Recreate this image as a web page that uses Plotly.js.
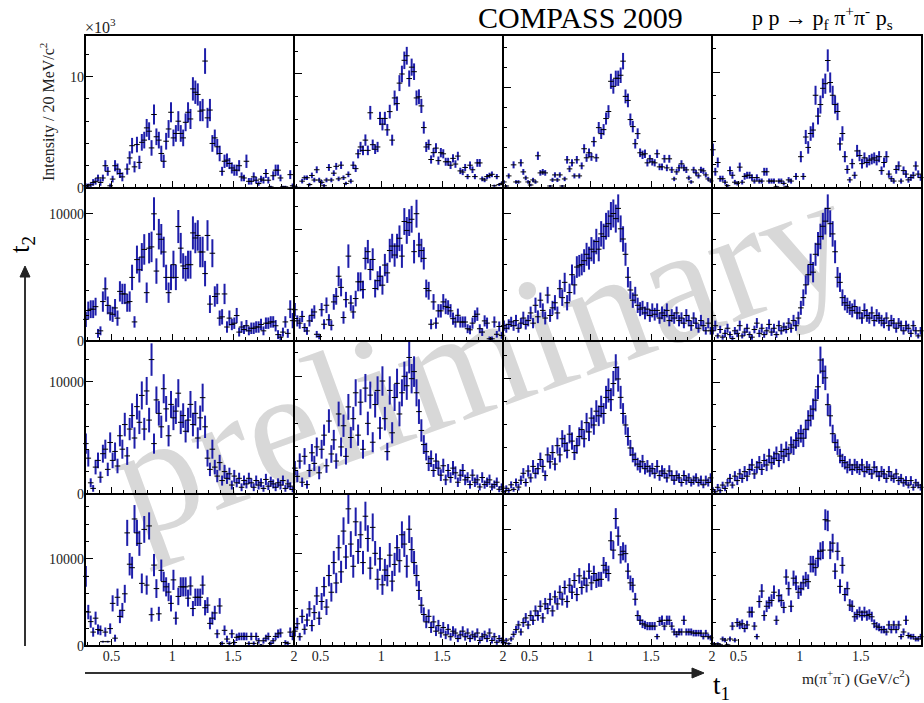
<!DOCTYPE html>
<html><head><meta charset="utf-8">
<script src="https://cdn.plot.ly/plotly-3.0.1.min.js"></script>
<style>html,body{margin:0;padding:0;background:#fff}#chart{width:924px;height:703px}</style>
</head><body><div id="chart"></div>
<script>
// bin centres of m(pi+pi-) in GeV/c^2 (20 MeV bins)
const binCenters = [0.29,0.31,0.33,0.35,0.37,0.39,0.41,0.43,0.45,0.47,
0.49,0.51,0.53,0.55,0.57,0.59,0.61,0.63,0.65,0.67,
0.69,0.71,0.73,0.75,0.77,0.79,0.81,0.83,0.85,0.87,
0.89,0.91,0.93,0.95,0.97,0.99,1.01,1.03,1.05,1.07,
1.09,1.11,1.13,1.15,1.17,1.19,1.21,1.23,1.25,1.27,
1.29,1.31,1.33,1.35,1.37,1.39,1.41,1.43,1.45,1.47,
1.49,1.51,1.53,1.55,1.57,1.59,1.61,1.63,1.65,1.67,
1.69,1.71,1.73,1.75,1.77,1.79,1.81,1.83,1.85,1.87,
1.89,1.91,1.93,1.95,1.97,1.99];

// intensities in units of 1000 per 20 MeV/c^2 ; Prc = row r, column c ; Prce = errors
const P11 = [0.2,0.2,0.3,0.5,0.6,0.9,0.5,0.9,2.0,1.5, 0.2,0.8,2.0,1.7,1.3,1.0,0.0,1.7,2.7,3.8, 1.9,3.9,2.3,4.1,4.3,5.4,5.1,3.6,6.6,4.6, 4.3,3.1,2.4,4.2,5.3,6.8,4.5,4.9,6.0,4.9, 4.5,5.9,6.8,6.2,8.9,8.6,8.4,6.9,7.0,11.4, 6.3,7.0,4.0,4.5,3.7,3.1,1.5,2.4,2.5,2.2, 1.8,1.6,1.6,2.0,1.0,0.9,2.4,0.6,0.6,1.0, 0.7,0.4,0.8,0.7,1.3,0.7,0.1,1.1,1.6,1.6, 0.9,0.1,0.1,0.0,1.2,0.2];
const P11e = [.2,.2,.2,.3,.3,.3,.3,.3,.5,.4, .2,.3,.5,.5,.4,.4,.1,.5,.6,.7, .5,.7,.6,.75,.75,.8,.8,.7,.9,.75, .75,.7,.6,.75,.8,.9,.75,.75,.9,.75, .75,.8,.9,.9,1.05,1.05,1.0,.9,1.0,1.15, .9,1.0,.75,.75,.7,.7,.4,.6,.6,.5, .5,.5,.5,.5,.4,.3,.6,.3,.3,.4, .3,.2,.3,.3,.4,.3,.1,.4,.5,.5, .3,.1,.1,.1,.4,.2];
const P12 = [0.1,0.0,0.0,0.6,0.9,0.9,0.3,1.1,0.7,1.6, 0.7,0.5,0.2,0.7,1.8,0.7,1.3,1.9,0.8,2.0, 0.9,0.4,1.2,0.6,2.0,1.7,3.0,3.6,3.3,4.2, 3.3,6.6,3.8,3.4,3.6,6.1,5.6,6.1,5.1,6.7, 4.2,7.9,7.4,9.2,10.0,11.2,11.6,9.6,10.6,10.2, 7.9,8.0,7.2,5.3,3.6,3.8,2.5,3.1,3.5,2.4, 3.1,3.0,2.3,2.3,2.0,2.6,2.1,2.8,1.5,1.4, 1.8,1.0,2.0,1.6,1.0,2.2,2.2,0.8,0.7,1.0, 1.1,1.2,0.2,1.0,0.3,0.4];
const P12e = [.1,.1,.1,.2,.2,.2,.15,.25,.2,.3, .2,.2,.15,.2,.3,.2,.25,.3,.2,.33, .2,.15,.25,.2,.33,.3,.4,.45,.42,.5, .42,.6,.45,.42,.45,.58,.55,.58,.52,.6, .48,.65,.63,.7,.73,.77,.78,.71,.75,.73, .65,.65,.62,.53,.44,.45,.36,.41,.43,.36, .41,.4,.35,.35,.33,.37,.33,.38,.28,.27, .31,.23,.33,.29,.23,.34,.34,.21,.19,.23, .24,.25,.1,.23,.13,.15];
const P13 = [0.6,0.2,1.2,0.0,2.3,0.6,0.6,2.5,1.6,1.0, 0.6,0.3,0.8,0.6,3.2,1.5,1.6,1.5,0.0,0.2, 0.8,1.3,0.8,1.3,0.2,0.9,2.8,1.9,2.5,1.2, 2.8,1.2,2.2,3.9,3.0,3.5,3.1,4.6,3.0,6.0, 5.4,5.8,6.9,7.6,10.6,10.1,10.9,10.9,11.2,12.6, 9.1,8.7,6.8,6.1,4.4,5.4,3.5,3.3,3.4,2.5, 2.9,2.6,2.5,3.4,2.1,2.1,2.9,2.0,2.9,1.8, 0.9,1.6,2.0,2.4,2.0,1.8,1.0,0.6,1.8,1.5, 1.2,1.8,1.7,1.3,0.9,0.7];
const P13e = [.18,.1,.25,.08,.35,.18,.18,.36,.29,.23, .18,.13,.21,.18,.41,.28,.29,.28,.08,.1, .21,.26,.21,.26,.1,.22,.38,.32,.36,.25, .38,.25,.34,.45,.4,.43,.4,.49,.4,.56, .53,.55,.6,.63,.75,.73,.76,.76,.77,.82, .69,.68,.6,.57,.48,.53,.43,.42,.42,.36, .39,.37,.36,.42,.33,.33,.39,.33,.39,.31, .22,.29,.33,.36,.33,.31,.23,.18,.31,.28, .25,.31,.3,.26,.22,.19];
const P14 = [3.3,1.4,2.2,0.8,0.8,0.5,0.2,1.5,1.1,0.5, 0.4,1.8,0.5,1.0,1.1,1.1,0.9,0.6,0.9,0.6, 0.6,1.4,1.4,0.6,0.6,0.6,0.1,0.6,0.6,0.4, 0.1,0.7,0.6,0.0,1.0,0.0,2.7,1.0,4.4,3.5, 4.7,5.0,8.0,6.2,7.2,8.6,9.0,11.0,9.1,8.0, 7.2,6.6,3.8,4.7,2.7,1.6,0.7,2.1,1.1,3.2, 2.8,2.1,2.6,2.2,2.4,2.5,2.6,2.4,2.7,1.5, 2.2,2.7,1.2,0.8,0.6,1.6,1.9,0.6,1.5,1.2, 0.7,0.9,1.1,1.9,1.2,0.9];
const P14e = [.53,.34,.43,.26,.26,.2,.13,.36,.3,.2, .18,.39,.2,.29,.3,.3,.28,.22,.28,.22, .22,.34,.34,.22,.22,.22,.1,.22,.22,.18, .1,.24,.22,.08,.29,.08,.48,.29,.61,.54, .63,.65,.82,.72,.78,.85,.87,.96,.87,.82, .78,.75,.57,.63,.48,.37,.24,.42,.3,.52, .49,.42,.47,.43,.45,.46,.47,.45,.48,.36, .43,.48,.32,.26,.22,.37,.4,.22,.36,.32, .24,.28,.3,.4,.32,.28];
const P21 = [1.7,2.4,2.5,2.5,2.7,0.6,0.8,3.1,4.1,2.8, 2.2,2.1,2.6,1.8,3.9,3.7,3.7,3.0,3.1,5.0, 1.5,6.4,5.6,6.6,7.2,3.8,7.3,7.4,10.0,5.5, 8.4,8.0,7.0,5.0,3.8,5.0,6.0,5.0,9.0,7.3, 5.9,5.7,6.0,6.0,8.5,8.1,8.3,7.0,7.0,5.3, 8.3,2.9,6.9,3.5,3.7,1.8,1.9,3.7,1.1,1.8, 1.3,1.4,2.0,0.7,1.1,0.9,1.2,0.8,1.0,1.0, 1.1,1.1,1.3,0.8,1.4,1.4,1.5,1.5,1.2,0.5, 0.3,0.7,1.5,0.6,2.5,1.6];
const P21e = [.6,.7,.7,.7,.7,.35,.35,.8,.9,.7, .6,.6,.7,.6,.8,.8,.8,.7,.8,1.0, .45,1.1,1.0,1.1,1.2,.8,1.2,1.2,1.3,1.0, 1.2,1.2,1.2,1.0,.8,1.0,1.1,1.0,1.3,1.2, 1.0,1.0,1.1,1.1,1.3,1.2,1.2,1.2,1.2,1.0, 1.2,.7,1.1,.8,.8,.6,.6,.8,.45,.6, .45,.45,.6,.35,.45,.35,.45,.35,.45,.45, .45,.45,.45,.35,.45,.45,.45,.45,.45,.35, .25,.35,.45,.35,.7,.6];
const P22 = [2.8,1.8,1.6,2.2,1.2,0.9,1.8,2.3,2.6,0.6, 0.4,2.8,1.5,3.2,1.9,1.4,3.5,4.0,5.8,4.8, 2.1,3.7,7.6,3.4,2.6,3.8,5.3,5.3,4.6,7.4, 8.0,6.4,7.3,4.7,5.4,5.8,5.0,6.8,6.1,8.1, 8.5,7.7,8.5,9.2,7.6,10.7,9.9,10.6,10.9,8.0, 11.4,8.6,8.1,7.4,4.7,4.5,1.5,3.5,1.6,2.7, 2.7,3.5,3.1,3.0,2.7,2.0,1.7,2.3,1.7,1.7, 1.7,1.1,1.0,1.6,2.2,2.4,1.1,0.8,1.8,1.6, 0.2,0.2,1.7,0.6,1.3,0.5];
const P22e = [.6,.5,.5,.5,.4,.35,.5,.6,.6,.3, .25,.6,.45,.7,.5,.45,.7,.75,.9,.8, .55,.7,1.05,.7,.6,.7,.85,.85,.8,1.0, 1.05,.95,1.0,.8,.85,.9,.85,1.0,.9,1.05, 1.1,1.05,1.1,1.15,1.05,1.2,1.2,1.2,1.2,1.05, 1.25,1.1,1.05,1.0,.8,.8,.45,.7,.5,.6, .6,.7,.7,.65,.6,.55,.5,.6,.5,.5, .5,.4,.4,.5,.55,.6,.4,.35,.5,.5, .2,.2,.5,.3,.45,.3];
const P23 = [1.2,1.0,1.3,1.5,1.2,1.6,1.0,1.4,1.8,1.3, 1.6,2.2,1.4,2.8,1.9,3.2,2.4,1.8,3.6,2.0, 2.6,3.0,2.2,4.1,3.4,4.6,3.0,3.8,5.2,4.4, 5.8,5.9,6.0,6.3,6.8,6.5,7.2,7.0,7.8,7.2, 8.4,8.2,9.0,9.2,9.8,10.0,9.6,10.4,8.8,8.0, 6.8,5.0,4.0,3.2,3.6,2.8,2.5,2.6,2.2,2.5, 2.0,2.4,2.1,2.4,1.8,2.2,2.0,2.4,1.6,2.0, 1.8,2.2,1.6,1.8,1.4,2.0,1.6,1.2,1.8,1.4, 1.0,1.6,1.2,0.8,1.4,0.8];
const P23e = [.4,.35,.4,.4,.4,.45,.35,.4,.5,.4, .45,.5,.4,.6,.5,.6,.55,.5,.65,.5, .55,.6,.5,.7,.65,.75,.6,.7,.8,.75, .85,.85,.85,.9,.9,.9,.95,.95,1.0,.95, 1.0,1.0,1.05,1.05,1.1,1.1,1.1,1.1,1.05,1.0, .9,.8,.7,.6,.65,.6,.55,.55,.5,.55, .5,.55,.5,.55,.45,.5,.5,.55,.45,.5, .45,.5,.45,.45,.4,.5,.45,.4,.45,.4, .35,.45,.4,.3,.4,.3];
const P24 = [0.8,1.2,0.4,0.9,0.3,0.6,1.0,0.5,0.2,0.8, 0.6,1.2,0.4,0.7,1.0,0.5,0.3,0.9,1.4,0.6, 1.0,0.5,0.8,1.3,0.7,1.0,0.5,1.2,0.8,1.1, 0.9,1.4,1.0,1.6,1.2,1.8,2.6,3.4,4.4,5.2, 6.0,5.4,6.8,7.6,8.2,9.0,9.4,10.4,9.2,8.4, 7.0,5.0,4.6,3.4,3.0,2.8,2.6,2.4,2.7,2.2, 2.2,1.8,2.4,2.0,1.8,2.2,1.6,2.0,1.8,1.6, 1.4,1.8,1.2,1.6,1.4,1.0,1.4,1.2,0.8,1.2, 1.0,0.6,1.2,0.8,0.4,0.8];
const P24e = [.3,.4,.2,.3,.2,.3,.35,.25,.2,.3, .3,.4,.2,.3,.35,.25,.2,.3,.4,.3, .35,.25,.3,.4,.3,.35,.25,.4,.3,.35, .3,.4,.35,.45,.4,.5,.55,.65,.75,.8, .85,.8,.9,.95,1.0,1.05,1.05,1.1,1.05,1.0, .9,.8,.75,.65,.6,.6,.55,.55,.55,.5, .5,.45,.55,.5,.45,.5,.45,.5,.45,.45, .4,.45,.4,.45,.4,.35,.4,.4,.3,.4, .35,.3,.4,.3,.2,.3];
const P31 = [4.5,3.2,1.0,0.5,2.4,3.0,1.5,3.6,4.0,2.2, 4.6,3.0,3.8,2.5,5.2,4.0,6.2,3.4,5.8,7.0, 5.0,7.8,6.4,8.8,5.8,9.2,6.6,12.0,4.5,8.4, 7.2,6.0,9.4,7.6,5.2,8.0,6.8,7.4,9.0,6.4, 7.0,5.6,6.6,8.0,6.2,7.2,5.0,6.8,8.6,6.0, 3.2,2.2,4.0,2.4,1.6,2.8,1.2,2.0,1.4,1.8, 0.8,1.6,1.0,1.4,0.6,1.2,0.9,1.4,1.0,0.6, 1.2,0.8,1.0,0.5,1.3,0.7,1.1,0.9,0.6,1.0, 0.8,1.2,0.5,0.9,0.7,0.4];
const P31e = [.9,.75,.4,.3,.65,.7,.5,.8,.85,.6, .9,.7,.8,.65,.95,.85,1.05,.8,1.0,1.1, .95,1.15,1.05,1.25,1.0,1.25,1.1,1.45,.9,1.2, 1.1,1.0,1.3,1.15,.95,1.2,1.1,1.15,1.25,1.05, 1.1,1.0,1.1,1.2,1.05,1.1,.95,1.1,1.25,1.0, .75,.6,.85,.65,.55,.7,.45,.6,.5,.55, .4,.55,.4,.5,.35,.45,.4,.5,.4,.35, .45,.4,.4,.3,.5,.35,.45,.4,.35,.4, .4,.45,.3,.4,.35,.25];
const P32 = [2.2,1.5,2.8,1.0,3.2,0.8,2.0,3.5,2.6,4.0, 1.8,3.8,5.0,2.4,6.2,3.4,4.6,2.8,6.8,4.0, 5.8,3.2,7.4,4.8,6.4,8.6,5.0,7.8,3.8,9.0, 6.0,8.4,4.4,7.6,8.8,5.6,9.6,6.4,3.6,8.8, 5.2,8.2,9.4,6.8,8.6,10.0,9.2,11.6,9.8,10.4, 8.6,7.0,5.4,4.2,3.6,2.6,3.0,2.0,2.8,2.2, 1.6,2.4,1.2,2.0,1.4,2.2,1.8,1.0,1.6,2.0, 1.2,1.4,0.8,1.6,1.0,1.2,0.6,1.4,0.8,1.0, 1.2,0.6,0.8,1.0,0.4,0.6];
const P32e = [.6,.5,.65,.4,.7,.35,.55,.75,.65,.8, .55,.8,.9,.6,1.0,.75,.85,.65,1.05,.8, .95,.7,1.1,.9,1.0,1.15,.9,1.1,.8,1.2, 1.0,1.15,.85,1.1,1.2,.95,1.25,1.0,.75,1.2, .9,1.15,1.25,1.05,1.15,1.25,1.2,1.35,1.25,1.3, 1.15,1.05,.95,.8,.75,.65,.7,.55,.65,.6, .5,.6,.45,.55,.45,.6,.55,.4,.5,.55, .45,.45,.35,.5,.4,.45,.3,.45,.35,.4, .45,.3,.35,.4,.25,.3];
const P33 = [0.2,0.5,0.3,0.8,0.4,1.0,0.6,1.2,1.8,1.0, 2.0,1.4,2.4,1.8,2.2,3.0,2.4,1.6,3.4,2.8, 3.6,2.6,4.2,3.4,4.8,4.4,3.8,5.2,4.6,3.6, 4.2,5.0,5.6,4.8,6.2,5.4,6.6,6.0,7.2,6.8, 7.6,7.0,8.4,9.0,8.2,9.6,11.0,10.0,8.4,7.0, 6.0,5.0,4.0,3.4,3.0,2.6,2.4,2.8,2.2,2.4, 2.0,2.2,1.8,2.4,1.6,2.0,1.8,1.4,2.0,1.6, 1.2,1.6,1.4,1.0,1.6,1.2,1.4,1.0,1.2,1.4, 1.0,1.2,0.8,1.2,1.0,1.4];
const P33e = [.15,.25,.2,.3,.2,.35,.3,.4,.45,.35, .5,.4,.55,.45,.5,.6,.55,.45,.65,.6, .65,.55,.7,.65,.75,.75,.7,.8,.75,.65, .7,.8,.8,.75,.85,.8,.9,.85,.95,.9, .95,.9,1.0,1.05,1.0,1.1,1.15,1.1,1.0,.9, .85,.8,.7,.65,.6,.55,.55,.6,.5,.55, .5,.5,.45,.55,.45,.5,.45,.4,.5,.45, .4,.45,.4,.35,.45,.4,.4,.35,.4,.4, .35,.4,.3,.4,.35,.4];
const P34 = [0.4,0.2,0.6,0.3,0.8,0.5,1.0,1.4,0.8,1.6, 1.2,1.8,1.4,2.0,1.6,2.2,2.6,1.8,2.4,2.8, 2.2,3.0,2.6,3.4,2.8,3.2,3.6,3.0,3.8,3.4, 4.0,3.6,4.4,4.2,4.8,5.0,5.4,5.0,5.8,6.6, 7.0,7.6,8.4,9.6,12.0,11.0,10.4,8.0,7.0,5.4, 4.6,4.2,3.4,3.0,2.8,2.4,2.6,2.2,2.6,2.4, 2.2,2.6,2.0,2.4,2.2,1.8,2.4,2.0,1.6,2.0, 1.8,1.4,2.0,1.6,1.4,1.8,1.2,1.4,1.0,1.2, 0.8,1.2,0.6,1.0,0.8,0.6];
const P34e = [.2,.15,.3,.2,.3,.25,.35,.4,.3,.45, .4,.45,.4,.5,.45,.5,.55,.45,.55,.6, .5,.6,.55,.65,.6,.6,.65,.6,.7,.65, .7,.65,.75,.7,.75,.8,.8,.8,.85,.9, .95,.95,1.0,1.1,1.2,1.15,1.1,1.0,.95,.8, .75,.7,.65,.6,.6,.55,.55,.5,.55,.55, .5,.55,.5,.55,.5,.45,.55,.5,.45,.5, .45,.4,.5,.45,.4,.45,.4,.4,.35,.4, .3,.4,.3,.35,.3,.3];
const P41 = [8.0,3.9,2.8,1.6,3.2,1.9,1.8,0.5,1.6,0.5, 2.0,4.9,0.9,5.6,3.4,4.1,6.0,13.0,9.4,9.0, 14.6,13.0,11.8,7.2,13.4,7.0,13.8,3.6,9.3,6.6, 3.7,8.7,7.4,6.8,6.2,4.9,7.6,3.2,5.7,6.8, 6.8,6.8,5.5,6.9,4.3,5.6,5.6,5.6,7.0,4.4, 4.7,2.6,3.2,3.8,1.4,4.6,0.3,1.8,0.8,0.3, 1.4,0.4,1.0,1.1,1.1,1.1,1.1,0.3,1.1,0.3, 1.1,0.6,0.1,0.6,0.9,1.1,0.3,0.6,1.1,1.4, 1.5,0.0,0.4,0.3,1.6,1.1];
const P41e = [1.2,.83,.7,.53,.75,.58,.56,.1,.53,.1, .6,.93,.4,1.0,.77,.85,1.03,1.5,1.29,1.26, 1.6,1.5,1.44,1.13,1.54,1.1,1.56,.8,1.28,1.08, .81,1.24,1.14,1.1,1.05,.93,1.16,.75,1.0,1.1, 1.1,1.1,.98,1.1,.87,1.0,1.0,1.0,1.1,.88, .91,.68,.75,.82,.5,.9,.23,.56,.38,.23, .5,.27,.42,.44,.44,.44,.44,.23,.44,.23, .44,.33,.13,.33,.4,.44,.23,.33,.44,.5, .51,.1,.27,.23,.53,.44];
const P42 = [1.6,2.4,1.0,3.2,1.8,2.8,4.0,2.2,3.6,5.4, 3.0,4.8,6.4,4.2,7.6,5.8,9.0,6.8,10.6,8.0, 12.4,9.6,14.8,11.0,8.6,13.4,10.2,12.0,9.0,14.0, 11.6,8.4,12.8,10.0,7.2,9.4,6.6,8.2,7.6,9.8, 7.0,8.8,10.6,9.2,12.0,11.0,8.6,12.6,10.4,9.0, 7.6,6.0,4.4,3.4,2.6,3.2,2.0,2.6,1.6,2.2, 1.4,2.0,1.2,1.8,1.0,1.6,1.4,0.8,1.2,1.6, 1.0,1.4,0.8,1.2,1.0,1.4,0.6,1.0,1.2,0.8, 1.4,0.6,1.0,0.4,0.8,0.6];
const P42e = [.53,.65,.42,.75,.56,.7,.84,.62,.8,.98, .73,.92,1.06,.86,1.16,1.01,1.26,1.1,1.37,1.19, 1.48,1.3,1.62,1.39,1.23,1.54,1.34,1.45,1.26,1.57, 1.43,1.22,1.5,1.33,1.13,1.29,1.08,1.2,1.16,1.31, 1.11,1.25,1.37,1.27,1.45,1.39,1.23,1.49,1.35,1.26, 1.16,1.03,.88,.77,.68,.75,.59,.68,.53,.62, .5,.59,.46,.56,.42,.53,.5,.38,.46,.53, .42,.5,.38,.46,.42,.5,.33,.42,.46,.38, .5,.33,.42,.27,.38,.33];
const P43 = [0.3,0.5,0.2,0.6,1.0,1.4,1.8,1.2,2.0,2.4, 1.8,2.6,2.2,3.0,2.6,3.4,2.4,3.6,3.2,4.0, 3.0,4.2,3.6,4.6,4.0,5.0,3.8,5.2,4.6,5.6, 4.4,6.0,5.0,5.8,5.2,6.4,5.4,6.2,5.6,5.7, 5.7,6.9,6.5,6.2,9.0,8.2,10.9,9.4,7.8,8.1, 7.9,6.4,5.4,5.2,4.0,2.6,2.2,1.9,1.8,1.7, 1.7,1.7,1.7,0.8,2.1,2.2,1.7,2.2,2.2,1.7, 1.2,1.0,1.2,1.2,2.2,1.2,1.2,1.2,1.1,1.1, 1.1,1.1,0.8,1.1,0.8,0.7];
const P43e = [.15,.19,.12,.21,.27,.32,.36,.3,.38,.42, .36,.44,.4,.47,.44,.5,.42,.51,.48,.54, .47,.55,.51,.58,.54,.6,.53,.62,.58,.64, .57,.66,.6,.65,.62,.68,.63,.67,.64,.64, .64,.71,.69,.67,.81,.77,.89,.83,.75,.77, .76,.68,.63,.62,.54,.44,.4,.37,.36,.35, .35,.35,.35,.24,.39,.4,.35,.4,.4,.35, .3,.27,.3,.3,.4,.3,.3,.3,.28,.28, .28,.28,.24,.28,.24,.23];
const P44 = [0.2,0.1,0.2,0.1,0.6,0.5,0.1,0.6,1.7,0.5, 2.0,1.8,1.9,1.5,1.8,2.9,2.9,1.7,0.8,3.8, 4.7,2.6,3.4,3.7,3.9,4.6,2.2,4.3,3.9,3.3, 5.9,4.9,3.4,5.8,5.4,4.6,4.9,5.4,5.7,5.5, 7.0,7.0,6.7,7.5,8.1,8.2,10.8,10.7,8.2,8.8, 6.4,8.1,5.1,6.9,4.4,4.9,3.5,3.4,2.5,2.7, 2.9,2.6,2.9,2.6,2.7,2.5,1.9,1.7,1.6,1.4, 1.4,1.2,1.8,1.4,1.8,1.4,1.8,0.8,1.2,2.2, 0.9,0.8,0.8,0.6,0.6,0.8];
const P44e = [.12,.1,.12,.1,.21,.19,.1,.21,.35,.19, .38,.36,.37,.33,.36,.46,.46,.35,.24,.53, .59,.44,.5,.52,.53,.58,.4,.56,.53,.49, .66,.6,.5,.65,.63,.58,.6,.63,.64,.63, .71,.71,.7,.74,.77,.77,.89,.88,.77,.8, .68,.77,.61,.71,.57,.6,.51,.5,.43,.44, .46,.44,.46,.44,.44,.43,.37,.35,.34,.32, .32,.3,.36,.32,.36,.32,.36,.24,.3,.4, .26,.24,.24,.21,.21,.24];

const panelValues = [[P11,P12,P13,P14],[P21,P22,P23,P24],[P31,P32,P33,P34],[P41,P42,P43,P44]];
const panelErrors = [[P11e,P12e,P13e,P14e],[P21e,P22e,P23e,P24e],[P31e,P32e,P33e,P34e],[P41e,P42e,P43e,P44e]];
const xTickLabels = ['0.5','1','1.5','2'];
const yTickLabelsTop = ['0','10'];
const yTickLabels = ['0','10000'];

// layout geometry
const W = 924, H = 703;
const colEdges = [85, 294, 503, 712, 922];
const rowEdges = [35, 188, 341, 494, 646];
const yTop = [[13.74,13.42,15.2,13.2],[12.03,13.7,12.0,12.0],[13.66,13.0,13.3,13.7],[17.47,16.4,13.0,13.0]];
const FONT = 'Liberation Serif, Times New Roman, serif';
const px = x => x / W, py = y => 1 - y / H;

const traces = [];
const layout = {
  width: W, height: H, margin: {l:0, r:0, t:0, b:0},
  paper_bgcolor: '#ffffff', plot_bgcolor: 'rgba(0,0,0,0)', showlegend: false,
  font: {family: FONT, color: '#000', size: 14},
  annotations: [], shapes: []
};

for (let r = 0; r < 4; r++) {
  for (let c = 0; c < 4; c++) {
    const idx = r * 4 + c + 1;
    const s = idx === 1 ? '' : String(idx);
    layout['xaxis' + s] = {
      domain: [px(colEdges[c]), px(colEdges[c + 1])], range: [0.283, 2.001], anchor: 'y' + s,
      showline: false,
      ticks: 'inside', ticklen: 7, tickwidth: 1, tickcolor: '#000',
      tickmode: 'array', tickvals: [0.5, 1, 1.5, 2], ticktext: xTickLabels,
      showticklabels: r === 3, tickfont: {family: FONT, size: 14, color: '#222'},
      minor: {tickmode: 'linear', tick0: 0, dtick: 0.1, ticks: 'inside', ticklen: 4, tickcolor: '#000', showgrid: false},
      showgrid: false, zeroline: false, fixedrange: true
    };
    layout['yaxis' + s] = {
      domain: [py(rowEdges[r + 1]), py(rowEdges[r])], range: [0, yTop[r][c]], anchor: 'x' + s,
      showline: false,
      ticks: 'inside', ticklen: 8, tickwidth: 1, tickcolor: '#000',
      tickmode: 'array', tickvals: [0, 10], ticktext: r === 0 ? yTickLabelsTop : yTickLabels,
      showticklabels: c === 0, tickfont: {family: FONT, size: 14, color: '#222'},
      minor: {tickmode: 'linear', tick0: 0, dtick: 2, ticks: 'inside', ticklen: 4, tickcolor: '#000', showgrid: false},
      showgrid: false, zeroline: false, fixedrange: true
    };
    traces.push({
      type: 'scatter', mode: 'markers', xaxis: 'x' + s, yaxis: 'y' + s,
      x: binCenters, y: panelValues[r][c],
      error_y: {type: 'data', array: panelErrors[r][c], visible: true, color: '#1e1eaa', thickness: 2, width: 0},
      marker: {symbol: 'line-ew', size: 4, color: '#000', line: {color: '#000', width: 1}},
      cliponaxis: false, hoverinfo: 'skip'
    });
  }
}

// watermark (under the data)
layout.shapes.push({
  type: 'rect', xref: 'paper', yref: 'paper', layer: 'below',
  x0: px(193), x1: px(753), y0: py(424), y1: py(254),
  line: {width: 0}, fillcolor: 'rgba(0,0,0,0)',
  label: {text: 'preliminary', textangle: -20, textposition: 'middle center',
          font: {family: FONT, size: 165, color: '#d8d8d8'}}
});
// panel frames
layout.shapes.push({type: 'rect', xref: 'paper', yref: 'paper', x0: px(colEdges[0]), x1: px(colEdges[4]), y0: py(rowEdges[4]), y1: py(rowEdges[0]),
  line: {color: '#000', width: 2}, fillcolor: 'rgba(0,0,0,0)'});
for (let k = 1; k < 4; k++) {
  layout.shapes.push({type: 'line', xref: 'paper', yref: 'paper', x0: px(colEdges[k]), x1: px(colEdges[k]), y0: py(rowEdges[4]), y1: py(rowEdges[0]),
    line: {color: '#000', width: 2}});
  layout.shapes.push({type: 'line', xref: 'paper', yref: 'paper', x0: px(colEdges[0]), x1: px(colEdges[4]), y0: py(rowEdges[k]), y1: py(rowEdges[k]),
    line: {color: '#000', width: 2}});
}
// t2 arrow
layout.shapes.push({type: 'line', xref: 'paper', yref: 'paper', x0: px(25), x1: px(25), y0: py(646), y1: py(275),
  line: {color: '#333', width: 2}});
layout.shapes.push({type: 'path', xref: 'paper', yref: 'paper',
  path: `M ${px(20)} ${py(277)} L ${px(25)} ${py(266)} L ${px(30)} ${py(277)} Z`,
  fillcolor: '#222', line: {color: '#222', width: 1}});
// t1 arrow
layout.shapes.push({type: 'line', xref: 'paper', yref: 'paper', x0: px(85), x1: px(694), y0: py(673), y1: py(673),
  line: {color: '#333', width: 2}});
layout.shapes.push({type: 'path', xref: 'paper', yref: 'paper',
  path: `M ${px(692)} ${py(668)} L ${px(704)} ${py(673)} L ${px(692)} ${py(678)} Z`,
  fillcolor: '#222', line: {color: '#222', width: 1}});

const A = (text, x, y, opts) => Object.assign({text, x: px(x), y: py(y), xref: 'paper', yref: 'paper', showarrow: false,
  font: {family: FONT, size: 14, color: '#000'}}, opts || {});
layout.annotations.push(
  A('COMPASS 2009', 580, 18, {font: {family: FONT, size: 30, color: '#000'}, xanchor: 'center', yanchor: 'middle'}),
  A('p p → p<sub>f</sub> π<sup>+</sup>π<sup>-</sup> p<sub>s</sub>', 822, 18, {font: {family: FONT, size: 22, color: '#000'}, xanchor: 'center', yanchor: 'middle'}),
  A('×10<sup>3</sup>', 83, 38, {font: {family: FONT, size: 16, color: '#222'}, xanchor: 'left', yanchor: 'bottom'}),
  A('Intensity / 20 MeV/c<sup>2</sup>', 47, 112, {font: {family: FONT, size: 16, color: '#222'}, textangle: -90, xanchor: 'center', yanchor: 'middle'}),
  A('t<sub>2</sub>', 22, 245, {font: {family: FONT, size: 27, color: '#000'}, textangle: -90, xanchor: 'center', yanchor: 'middle'}),
  A('t<sub>1</sub>', 711, 687, {font: {family: FONT, size: 27, color: '#000'}, xanchor: 'left', yanchor: 'middle'}),
  A('m(π<sup>+</sup>π<sup>-</sup>) (GeV/c<sup>2</sup>)', 912, 677, {font: {family: FONT, size: 15.5, color: '#222'}, xanchor: 'right', yanchor: 'middle'})
);

Plotly.newPlot('chart', traces, layout, {displayModeBar: false, staticPlot: true});
</script></body></html>
